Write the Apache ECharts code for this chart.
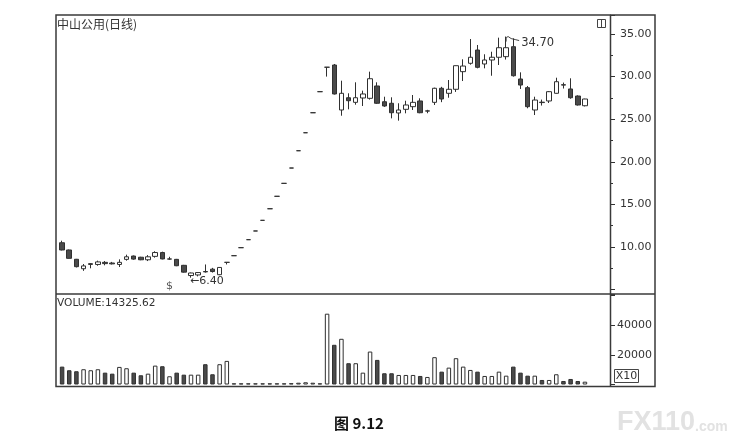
<!DOCTYPE html>
<html><head><meta charset="utf-8">
<script src="https://cdn.jsdelivr.net/npm/echarts@6/dist/echarts.min.js"></script>
<style>html,body{margin:0;padding:0;background:#fff}#c{width:746px;height:442px}</style>
</head><body><div id="c"></div>
<script>
// ---- data ----
const opens  = [10.50, 9.65, 8.56, 7.45, 7.95, 7.95, 8.20, 8.12, 7.95, 8.55, 8.94, 8.80, 8.50, 8.90, 9.35, 8.58, 8.55, 7.85, 6.65, 6.72, 7.12, 7.40, 6.75, 8.20,
  8.98, 9.92, 10.86, 11.88, 13.13, 14.49, 15.95, 17.47, 19.27, 21.30, 23.41, 25.76, 28.23,
  31.10, 31.36, 26.08, 27.52, 26.98, 27.49, 27.45, 28.90, 27.05, 26.87, 25.73, 26.16, 26.47, 27.14, 25.95, 26.98, 28.63, 28.04, 28.51, 30.58,
  31.56, 33.12, 31.48, 31.95, 32.27, 32.34, 33.51, 29.72, 28.70, 26.08, 27.00, 27.14, 28.04, 29.05, 28.55, 27.72, 26.58];
const closes = [9.65, 8.67, 7.69, 7.78, 8.05, 8.25, 8.05, 8.02, 8.20, 8.85, 8.58, 8.50, 8.85, 9.35, 8.60, 8.60, 7.80, 7.05, 6.95, 7.00, 7.08, 7.12, 7.60, 8.20,
  8.98, 9.92, 10.86, 11.88, 13.13, 14.49, 15.95, 17.47, 19.27, 21.30, 23.41, 25.76, 28.23,
  31.10, 27.96, 28.04, 27.17, 27.52, 27.96, 29.75, 26.87, 26.55, 25.76, 26.08, 26.67, 26.98, 25.76, 25.98, 28.63, 27.37, 28.51, 31.28, 31.24,
  32.27, 31.09, 31.95, 32.27, 33.39, 33.39, 30.10, 29.01, 26.47, 27.25, 26.95, 28.23, 29.40, 29.00, 27.52, 26.67, 27.37];
const lows   = [9.60, 8.65, 7.60, 7.20, 7.50, 7.80, 7.85, 7.95, 7.65, 8.40, 8.50, 8.45, 8.35, 8.75, 8.55, 8.50, 7.75, 7.00, 6.40, 6.55, 7.00, 7.00, 6.70, 7.95,
  8.98, 9.92, 10.86, 11.88, 13.13, 14.49, 15.95, 17.47, 19.27, 21.30, 23.41, 25.76, 28.23,
  30.00, 27.90, 25.41, 26.16, 26.70, 26.55, 27.30, 26.80, 26.45, 25.10, 24.83, 25.69, 26.08, 25.70, 25.70, 26.67, 27.00, 27.52, 28.20, 29.48,
  31.40, 30.97, 30.97, 30.10, 31.36, 32.00, 30.00, 28.55, 26.28, 25.49, 26.60, 26.90, 28.00, 28.60, 27.40, 26.60, 26.50];
const highs  = [10.74, 9.70, 8.60, 8.00, 8.10, 8.40, 8.35, 8.25, 8.55, 9.10, 9.00, 8.85, 9.05, 9.50, 9.45, 8.85, 8.60, 7.90, 7.00, 7.05, 7.95, 7.55, 7.65, 8.20,
  8.98, 9.92, 10.86, 11.88, 13.13, 14.49, 15.95, 17.47, 19.27, 21.30, 23.41, 25.76, 28.23,
  31.10, 31.48, 29.52, 28.04, 29.33, 28.35, 30.58, 29.33, 27.64, 27.57, 26.87, 27.17, 27.84, 27.45, 26.10, 28.70, 28.80, 29.60, 31.30, 32.03,
  34.41, 33.71, 32.62, 32.92, 34.57, 34.70, 34.49, 30.50, 28.90, 27.64, 27.30, 28.30, 29.87, 29.30, 29.80, 27.80, 27.40];
const volumes = [12070, 9630, 8950, 10300, 9630, 10300, 8000, 7320, 11870, 10980, 8000, 6240, 7320, 12750, 12340, 5560, 8000, 6640, 6640, 6640, 13700, 6920, 13700, 15930,
  800, 800, 800, 800, 800, 800, 800, 800, 900, 1200, 1500, 1200, 800,
  47800, 26800, 30850, 14370, 14370, 8000, 22240, 16610, 7590, 7590, 6440, 6440, 6440, 5760, 5090, 18440, 8680, 11390, 17760, 12070,
  9830, 8680, 5760, 5760, 8680, 5970, 12070, 8000, 5970, 5970, 3050, 3050, 6920, 2370, 3730, 2370, 1900];
const emptyDaysAtEnd = 3;
const categories = Array.from({length: opens.length + emptyDaysAtEnd}, (_, i) => 'D' + (i + 1));
const priceTicks = [10, 15, 20, 25, 30, 35];
const volumeTicks = [20000, 40000];
const titleText = '中山公用(日线)';
const volumeText = 'VOLUME:14325.62';
const lowMark = {index: 18, text: '6.40'};
const highMark = {index: 62, text: '34.70'};
const signMark = {index: 15, text: '$'};
const captionText = '图 9.12';

// ---- chart ----
const chart = echarts.init(document.getElementById('c'));
const UP_FILL = '#ffffff', DOWN_FILL = '#4a4a4a', EDGE = '#303030';
const candleData = opens.map((o, i) => [o, closes[i], lows[i], highs[i]]);
const volData = volumes.map((v, i) => ({
  value: v,
  itemStyle: closes[i] >= opens[i]
    ? {color: UP_FILL, borderColor: EDGE, borderWidth: 1}
    : {color: DOWN_FILL, borderColor: EDGE, borderWidth: 1}
}));
const F = 'DejaVu Sans';
const hiddenX = {axisLine: {show: false}, axisTick: {show: false}, axisLabel: {show: false}, splitLine: {show: false}};

chart.setOption({
  animation: false,
  backgroundColor: '#ffffff',
  grid: [
    {left: 58.5, top: 15, width: 551.5, height: 274.6},
    {left: 58.5, top: 294, width: 551.5, height: 90.5}
  ],
  xAxis: [
    Object.assign({type: 'category', gridIndex: 0, data: categories, boundaryGap: true}, hiddenX),
    Object.assign({type: 'category', gridIndex: 1, data: categories, boundaryGap: true}, hiddenX)
  ],
  yAxis: [
    {type: 'value', gridIndex: 0, position: 'right', min: 5, max: 37.23, interval: 5,
     axisLine: {show: true, lineStyle: {color: EDGE}},
     axisTick: {show: true, length: 5, lineStyle: {color: EDGE}},
     minorTick: {show: true, splitNumber: 2, length: 3, lineStyle: {color: EDGE}},
     splitLine: {show: false},
     axisLabel: {margin: 10, color: '#333', fontFamily: F, fontSize: 11,
       formatter: v => priceTicks.includes(v) ? v.toFixed(2) : ''}},
    {type: 'value', gridIndex: 1, position: 'right', min: 0, max: 61100, interval: 20000,
     axisLine: {show: true, lineStyle: {color: EDGE}},
     axisTick: {show: true, length: 5, lineStyle: {color: EDGE}},
     splitLine: {show: false},
     axisLabel: {margin: 7, color: '#333', fontFamily: F, fontSize: 11,
       formatter: v => volumeTicks.includes(v) ? String(v) : ''}}
  ],
  series: [
    {type: 'candlestick', xAxisIndex: 0, yAxisIndex: 0, data: candleData, barWidth: 5,
     itemStyle: {color: UP_FILL, color0: DOWN_FILL, borderColor: EDGE, borderColor0: EDGE, borderColorDoji: EDGE, borderWidth: 1}},
    {type: 'bar', xAxisIndex: 1, yAxisIndex: 1, data: volData, barWidth: 4.5}
  ]
});

// annotations positioned through the chart's own scales
const toPx = (idx, val) => chart.convertToPixel({xAxisIndex: 0, yAxisIndex: 0}, [idx, val]);
const lowP = toPx(lowMark.index, lows[lowMark.index]);
const highP = toPx(highMark.index, highs[highMark.index]);
const signP = toPx(signMark.index, 5.35);

const graphic = [
  {type: 'rect', shape: {x: 56, y: 15, width: 599, height: 371.5}, style: {fill: null, stroke: '#3a3a3a', lineWidth: 1.5}, z: 100},
  {type: 'line', shape: {x1: 610.5, y1: 15, x2: 610.5, y2: 386.5}, style: {stroke: '#3a3a3a', lineWidth: 1.5}, z: 100},
  {type: 'line', shape: {x1: 56, y1: 294, x2: 655, y2: 294}, style: {stroke: '#3a3a3a', lineWidth: 1.5}, z: 100},
  {type: 'rect', shape: {x: 597.5, y: 19.5, width: 8, height: 8}, style: {fill: null, stroke: '#444', lineWidth: 1}},
  {type: 'line', shape: {x1: 601.5, y1: 19.5, x2: 601.5, y2: 27.5}, style: {stroke: '#444', lineWidth: 1}},
  {type: 'rect', shape: {x: 614.5, y: 369.5, width: 24, height: 13}, style: {fill: null, stroke: '#444', lineWidth: 1}},
  {type: 'text', x: 626.5, y: 376, style: {text: 'X10', fontFamily: F, fontSize: 11, fill: '#333', align: 'center', verticalAlign: 'middle'}},
  {type: 'text', x: 57, y: 24, style: {text: titleText, fontFamily: 'Noto Sans CJK SC', fontSize: 12, fill: '#333', align: 'left', verticalAlign: 'middle'}},
  {type: 'text', x: 57, y: 303.5, style: {text: volumeText, fontFamily: F, fontSize: 10.6, fill: '#333', align: 'left', verticalAlign: 'middle'}},
  {type: 'text', x: lowP[0] - 1, y: lowP[1] + 3, style: {text: '←' + lowMark.text, fontFamily: F, fontSize: 11, fill: '#333', align: 'left', verticalAlign: 'middle'}},
  {type: 'polyline', shape: {points: [[highP[0], highP[1] + 5], [highP[0], highP[1] + 1], [highP[0] + 2, highP[1]], [highP[0] + 5, highP[1] + 2], [highP[0] + 9, highP[1] + 3], [highP[0] + 13, highP[1] + 4]]}, style: {fill: null, stroke: '#444', lineWidth: 1}},
  {type: 'text', x: highP[0] + 15, y: highP[1] + 6, style: {text: highMark.text, fontFamily: F, fontSize: 11.5, fill: '#333', align: 'left', verticalAlign: 'middle'}},
  {type: 'text', x: signP[0], y: signP[1], style: {text: signMark.text, fontFamily: F, fontSize: 11, fill: '#555', align: 'center', verticalAlign: 'middle'}},
  {type: 'text', x: 359, y: 423, style: {text: captionText, fontFamily: 'Noto Sans CJK SC', fontWeight: 'bold', fontSize: 15, fill: '#111', align: 'center', verticalAlign: 'middle'}},
  {type: 'text', x: 617, y: 423, style: {
    text: '{a|FX110}{b|.com}', align: 'left', verticalAlign: 'middle',
    rich: {a: {fontFamily: 'Liberation Sans', fontWeight: 'bold', fontSize: 27, fill: '#e2e2e2'},
           b: {fontFamily: 'Liberation Sans', fontWeight: 'bold', fontSize: 14, fill: '#e2e2e2', padding: [8, 0, 0, 0]}}}}
];
chart.setOption({graphic: graphic});
</script></body></html>
